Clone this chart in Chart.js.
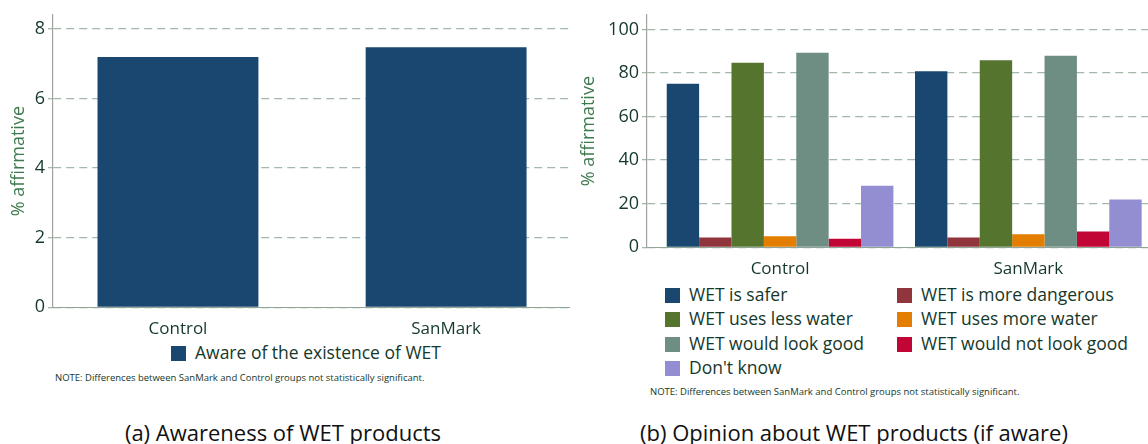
<!DOCTYPE html>
<html>
<head>
<meta charset="utf-8">
<script src="https://cdn.jsdelivr.net/npm/chart.js@4.4.1/dist/chart.umd.min.js"></script>
<style>
    html, body { margin: 0; padding: 0; background: #fff; width: 1148px; height: 444px; overflow: hidden; }
    body { position: relative; font-family: 'Open Sans', sans-serif; color: #14382a; }
    .box { position: absolute; }
    .legend { position: absolute; font-size: 17.5px; line-height: 24.3px; }
    .legend .item { position: absolute; white-space: nowrap; }
    .legend .sw { display: inline-block; width: 15px; height: 15px; vertical-align: -2px; margin-right: 9px; }
    .note { position: absolute; font-size: 9.5px; color: #14382a; white-space: nowrap; }
    .caption { position: absolute; font-size: 22px; color: #111; white-space: nowrap; transform: translateX(-50%); }
</style>
</head>
<body>
<div class="box" style="left:0;top:0;width:570px;height:340px;"><canvas id="chartA"></canvas></div>
<div class="box" style="left:575px;top:0;width:574px;height:280px;"><canvas id="chartB"></canvas></div>
<div class="legend" id="legendA"></div>
<div class="legend" id="legendB"></div>
<div class="note" style="left:55px;top:371px;">NOTE: Differences between SanMark and Control groups not statistically significant.</div>
<div class="note" style="left:650px;top:385px;">NOTE: Differences between SanMark and Control groups not statistically significant.</div>
<div class="caption" style="left:283px;top:417px;">(a) Awareness of WET products</div>
<div class="caption" style="left:854px;top:417px;">(b) Opinion about WET products (if aware)</div>
<script>
const categories = ['Control', 'SanMark'];

// (a) awareness
const awareLabel = 'Aware of the existence of WET';
const awareValues = [7.19, 7.47];
const yTicksA = [0, 2, 4, 6, 8];

// (b) opinion
const opinionLabels = [
    'WET is safer', 'WET is more dangerous',
    'WET uses less water', 'WET uses more water',
    'WET would look good', 'WET would not look good',
    "Don't know"
];
const safer = [75.0, 80.8];
const moreDangerous = [4.5, 4.5];
const lessWater = [84.7, 85.8];
const moreWater = [5.1, 6.0];
const lookGood = [89.3, 87.9];
const notLookGood = [3.9, 7.3];
const dontKnow = [28.3, 21.9];
const yTicksB = [0, 20, 40, 60, 80, 100];

const opinionColors = ['#1a476f', '#90353b', '#55752f', '#e37e00', '#6e8e84', '#c10534', '#938dd2'];
const opinionSeries = [safer, moreDangerous, lessWater, moreWater, lookGood, notLookGood, dontKnow];

const textColor = '#14382a';
const titleColor = '#3d7a4e';
const gridColor = '#a4b8aa';
const axisColor = '#9ea39f';

const points = (vals) => vals.map((v, i) => ({ x: i, y: v }));

function makeOptions(cfg) {
    return {
        responsive: true,
        maintainAspectRatio: false,
        animation: false,
        layout: { padding: { top: 15, left: cfg.padLeft, right: 0, bottom: 0 } },
        plugins: { legend: { display: false }, tooltip: { enabled: false } },
        scales: {
            x: {
                type: 'linear',
                offset: false,
                min: cfg.xMin,
                max: cfg.xMax,
                afterBuildTicks: (scale) => { scale.ticks = categories.map((c, i) => ({ value: i })); },
                afterFit: (scale) => { scale.height = cfg.xHeight; },
                grid: { display: false, offset: false },
                border: { display: true, color: '#8fa595', width: 1 },
                ticks: {
                    color: textColor,
                    padding: 4,
                    font: { family: 'Open Sans', size: 17 },
                    callback: (v) => categories[v]
                }
            },
            y: {
                min: 0,
                max: cfg.yMax,
                afterBuildTicks: (scale) => { scale.ticks = cfg.yTicks.map(v => ({ value: v })); },
                afterFit: (scale) => { scale.width = cfg.yWidth; },
                grid: {
                    color: gridColor,
                    lineWidth: 1.3,
                    tickLength: 5,
                    tickColor: gridColor
                },
                border: { display: true, color: axisColor, width: 1.2, dash: [8, 5] },
                ticks: {
                    color: textColor,
                    padding: 3,
                    font: { family: 'Open Sans', size: 18 }
                },
                title: {
                    display: true,
                    text: '% affirmative',
                    color: titleColor,
                    padding: 0,
                    font: { family: 'Open Sans', size: 18 }
                }
            }
        }
    };
}

new Chart(document.getElementById('chartA'), {
    type: 'bar',
    data: {
        datasets: [{
            label: awareLabel,
            data: points(awareValues),
            backgroundColor: '#1a476f',
            categoryPercentage: 0.6,
            barPercentage: 1
        }]
    },
    options: makeOptions({ padLeft: 8, yWidth: 45, xHeight: 32.7, xMin: -0.466, xMax: 1.462, yMax: 8.4, yTicks: yTicksA })
});

new Chart(document.getElementById('chartB'), {
    type: 'bar',
    data: {
        datasets: opinionSeries.map((vals, i) => ({
            label: opinionLabels[i],
            data: points(vals),
            backgroundColor: opinionColors[i],
            categoryPercentage: 0.913,
            barPercentage: 1
        }))
    },
    options: makeOptions({ padLeft: 3, yWidth: 69, xHeight: 32.7, xMin: -0.536, xMax: 1.486, yMax: 106.6, yTicks: yTicksB })
});

// legends
function item(label, color, x, y) {
    return `<div class="item" style="left:${x}px;top:${y}px;"><span class="sw" style="background:${color}"></span>${label}</div>`;
}
const legA = document.getElementById('legendA');
legA.innerHTML = item(awareLabel, '#1a476f', 171, 340);

const legB = document.getElementById('legendB');
legB.innerHTML = opinionLabels.map((l, i) => {
    const col = i % 2, row = Math.floor(i / 2);
    return item(l, opinionColors[i], col ? 897 : 665, 282 + row * 24.3);
}).join('');
</script>
</body>
</html>
